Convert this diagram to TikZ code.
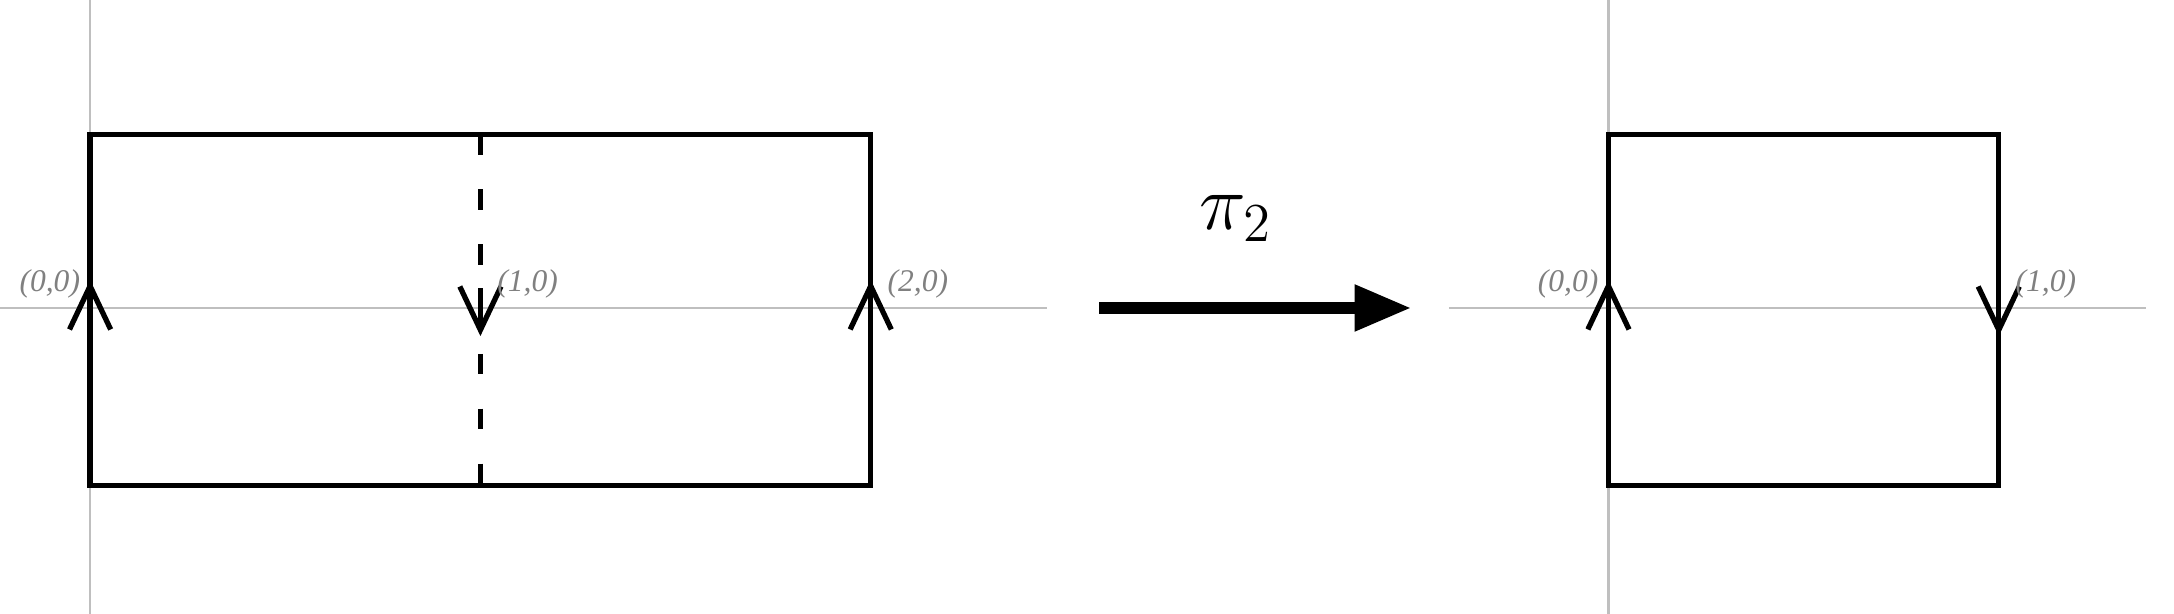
\documentclass[tikz,border=0pt]{standalone}
\usepackage{fontspec}
\newfontfamily\lblfont{Liberation Serif}
\usetikzlibrary{arrows.meta}

\begin{document}
\begin{tikzpicture}[x=3cm,y=3cm,
  axis/.style={color=black!25,line width=0.6pt},
  edge/.style={line width=1.15pt},
  barb/.style={line width=1.15pt,-{Straight Barb[length=9.5pt,width=9pt]}},
  lbl/.style={color=black!50,inner sep=2pt,font=\lblfont\itshape\fontsize{6.9pt}{8pt}\selectfont},
  maparrow/.style={line width=2.8pt,-{Triangle[length=12.5pt,width=9.5pt]}}]
\useasboundingbox (-0.2308,-0.784) rectangle (5.339,0.789);

\draw [axis] (-0.2308, 0) -- (2.451, 0);
\draw [axis] (0, 0.789) -- (0, -0.784);
\draw [axis] (3.481, 0) -- (5.268, 0);
\draw [axis] (3.89, 0.789) -- (3.89, -0.784);

\coordinate (a1) at (0, -0.455);
\coordinate (a2) at (2, 0.445);
\coordinate (m1) at (1, 0.445);
\coordinate (m2) at (1, -0.455);
\draw [edge] (a1) rectangle (a2);
\draw [edge, dash pattern=on 4.5pt off 7.5pt] (m1) -- (m2);
\draw [barb] (0, -0.05) -- (0, 0.072);
\draw [barb] (1, 0.05) -- (1, -0.072);
\draw [barb] (2, -0.05) -- (2, 0.072);
\node [lbl, above left] (l00) at (0, 0) {(0,0)};
\node [lbl, above right, xshift=1.5pt] (l10) at (1, 0) {(1,0)};
\node [lbl, above right, xshift=1.5pt] (l20) at (2, 0) {(2,0)};

\coordinate (mapstart) at (2.586, 0);
\coordinate (mapend) at (3.386, 0);
\draw [maparrow] (mapstart) -- (mapend);
\node [font=\LARGE] (pilbl) at (2.936, 0.23) {$\pi_2$};

\coordinate (b1) at (3.89, -0.455);
\coordinate (b2) at (4.89, 0.445);
\draw [edge] (b1) rectangle (b2);
\draw [barb] (3.89, -0.05) -- (3.89, 0.072);
\draw [barb] (4.89, 0.05) -- (4.89, -0.072);
\node [lbl, above left] (r00) at (3.89, 0) {(0,0)};
\node [lbl, above right, xshift=1.5pt] (r10) at (4.89, 0) {(1,0)};
\end{tikzpicture}
\end{document}
